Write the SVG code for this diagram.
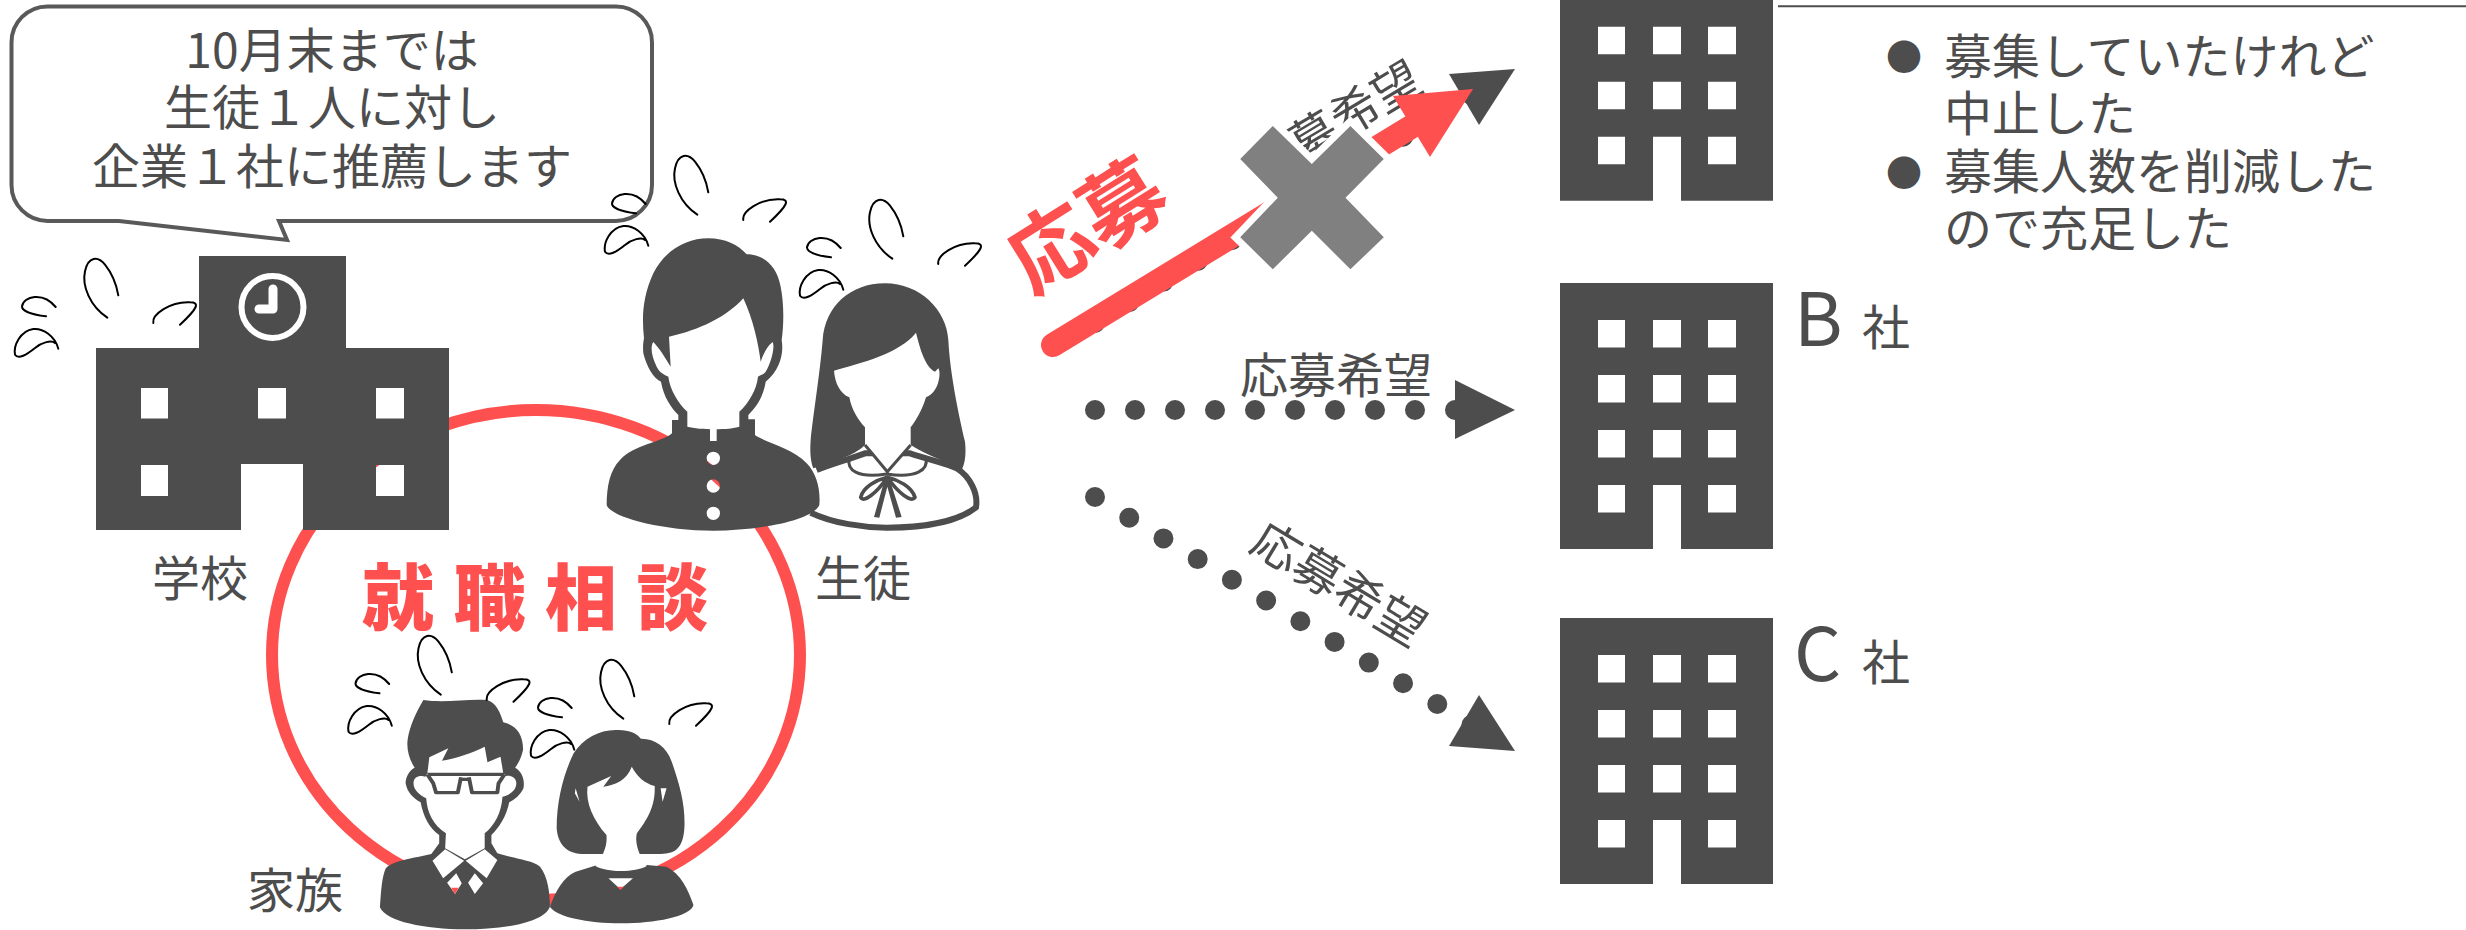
<svg xmlns="http://www.w3.org/2000/svg" xmlns:xlink="http://www.w3.org/1999/xlink" width="2466" height="930" viewBox="0 0 2466 930">
<style>
text{font-family:"Noto Sans CJK JP","Noto Sans",sans-serif;font-weight:400;fill:#4d4d4d;font-size:48px}
.c{text-anchor:middle}
.red{fill:#ff5050;font-weight:900}
.d{fill:#4d4d4d}
.w{fill:#fff}
.sw{fill:none;stroke:#000;stroke-width:2;stroke-linecap:round}
.dots{fill:none;stroke:#4d4d4d;stroke-width:20;stroke-linecap:round;stroke-dasharray:0 40}
.ln{fill:none;stroke:#4d4d4d;stroke-linejoin:round}
</style>
<defs>
<g id="sweat">
<path class="sw" d="M97.3,74.7C80,63 71.7,43 75,28.3C78.3,13 88,13 95,21.7C103,31.7 106.7,43 108.3,52.3"/>
<path class="sw" d="M143.3,80C141.7,71.7 160,58.3 180,59.3C190,59.3 188,65 170,81.7"/>
<path class="sw" d="M36,73.3C23,71.7 11.7,68.3 12,63.3C13.3,53.3 33,48.3 45.7,64"/>
<path class="sw" d="M48.3,105.7C45,93 33,85 23.3,86C10,88 3.3,103 5,111.7C8.3,116.7 16.7,111.7 25,105C31.7,99.3 41.7,96.7 45,100"/>
</g>
<path id="office" class="d" fill-rule="evenodd" d="M0,0H213V266H121V202H93V266H0ZM38,37h27v27.500h-27zM93,37h28v27.500h-28zM148,37h28v27.500h-28zM38,92h27v27.500h-27zM93,92h28v27.500h-28zM148,92h28v27.500h-28zM38,147h27v27.500h-27zM93,147h28v27.500h-28zM148,147h28v27.500h-28zM38,202h27v27.500h-27zM148,202h28v27.500h-28z"/>
</defs>
<rect width="2466" height="930" fill="#fff"/>
<ellipse id="consultation-ring" cx="536" cy="655" rx="264" ry="245" fill="none" stroke="#ff5050" stroke-width="12"/>
<text class="red" x="362" y="624" style="font-size:72px;letter-spacing:19.500px">就職相談</text>

<g id="bubble">
<path d="M47.500,6.400H616A36,36 0 0 1 652,42.400V185A36,36 0 0 1 616,221H279L287,240L119,221H47.500A36,36 0 0 1 11.500,185V42.400A36,36 0 0 1 47.500,6.400Z" fill="#fff" stroke="#595959" stroke-width="4"/>
<text class="c" x="332" y="68">10月末までは</text>
<text class="c" x="332" y="125">生徒１人に対し</text>
<text class="c" x="332" y="184">企業１社に推薦します</text>
</g>

<g id="school">
<path class="d" fill-rule="evenodd" d="M96,348H199V256H346V348H449V530H303V464H241V530H96ZM141,388h27v30.500h-27zM258,388h28v30.500h-28zM376,388h28v30.500h-28zM141,465h27v31h-27zM376,465h28v31h-28z"/>
<circle cx="272.500" cy="307" r="31" fill="none" stroke="#fff" stroke-width="6"/>
<path d="M273,289V309H259" fill="none" stroke="#fff" stroke-width="9" stroke-linecap="round" stroke-linejoin="round"/>
<use xlink:href="#sweat" href="#sweat" transform="translate(10,243)"/>
<text class="c" x="200" y="596">学校</text>
</g>

<g id="students">
<g id="girl" transform="translate(600,140) scale(.33333)">
<path d="M632,1118C700,1150 790,1163 860,1163C960,1163 1070,1148 1128,1102C1135,1060 1110,1010 1070,985C1040,970 990,960 930,940H795C740,960 700,970 650,990" fill="#fff" stroke="#4d4d4d" stroke-width="18"/>
<path class="d" d="M668,600C675,500 750,430 855,430C960,430 1040,510 1045,600C1050,700 1075,820 1095,905C1100,950 1092,975 1085,990C1050,970 990,950 932,915H795C775,935 740,955 640,985C630,960 630,930 632,900C640,820 660,700 668,600Z"/>
<path class="w" d="M702,692C780,670 900,640 948,578C960,625 975,680 1005,695L1015,685C1025,700 1015,760 978,772C965,815 945,845 932,862V915L862,995L795,915V862C775,840 755,810 748,772C720,760 705,730 702,692Z"/>
<path class="ln" stroke-width="9" d="M795,915L862,995L932,915M748,955C740,990 770,1015 860,1002C950,1015 985,990 978,955"/>
<path class="ln" stroke-width="11" d="M862,1012C830,1020 790,1040 782,1072C790,1090 830,1060 862,1012C895,1060 935,1090 945,1072C935,1040 895,1020 862,1012Z"/>
<path class="d" d="M855,1015L822,1131L838,1133L862,1040L888,1133L905,1131L868,1015Z"/>
</g>
<g id="boy" transform="translate(600,140) scale(.33333)">
<path class="d" fill-rule="evenodd" d="M132,595C125,530 128,470 160,400C195,330 260,295 325,295C375,295 415,315 440,343C490,343 530,375 542,440C552,490 552,550 545,600C552,640 540,690 497,725C490,770 470,800 445,825V838H465V885C490,905 580,925 620,970C650,1000 662,1050 658,1095C640,1140 480,1172 340,1172C180,1172 30,1130 20,1095C20,1040 30,990 60,960C100,915 190,905 216,880V840H235V825C215,805 190,770 183,725C160,715 140,680 130,640C128,620 130,605 132,595ZM360,955A20,20 0 1 1 320,955A20,20 0 1 1 360,955ZM360,1038A20,20 0 1 1 320,1038A20,20 0 1 1 360,1038ZM360,1120A20,20 0 1 1 320,1120A20,20 0 1 1 360,1120Z"/>
<path class="w" d="M207,590C300,570 380,530 430,475C460,540 475,610 482,665C490,640 505,615 518,606C525,620 515,665 497,695C490,705 478,705 474,710C470,750 445,790 418,815V860C390,870 300,870 262,860V815C235,790 210,750 205,710C195,705 180,700 170,680C155,650 150,620 160,606C175,620 200,660 212,680Z"/>
<rect class="w" x="330" y="866" width="20" height="37"/>
</g>
<use xlink:href="#sweat" href="#sweat" transform="translate(600,140)"/>
<use xlink:href="#sweat" href="#sweat" transform="translate(795,184)"/>
<text class="c" x="863" y="596">生徒</text>
</g>

<g id="family">
<g id="mother" transform="matrix(.3954,0,0,.33333,200,500)">
<path class="d" d="M1050,690C1085,688 1105,700 1115,716C1150,715 1180,740 1193,785C1215,860 1228,920 1225,985C1222,1040 1205,1062 1165,1062H965C925,1060 905,1030 902,985C902,900 920,820 945,760C970,715 1010,690 1050,690Z"/>
<path class="d" d="M1005,1095H1130L1180,1100C1215,1120 1235,1170 1248,1215C1240,1250 1150,1270 1065,1270C980,1270 900,1250 885,1220C900,1170 920,1130 950,1115Z"/>
<path class="w" d="M980,860L1040,828L1020,860C1050,855 1080,840 1092,800C1105,830 1125,850 1150,858C1152,920 1130,960 1105,1000C1100,1020 1105,1060 1130,1098C1100,1118 1030,1118 1000,1098C1025,1060 1030,1030 1028,1005C995,960 975,910 980,860Z"/>
<path class="w" d="M950,865L960,905L948,880ZM1180,865L1170,905L1165,865Z"/>
<path class="w" d="M1033,1135H1095L1063,1168Z"/>
<path fill="#ff5050" d="M1055,1160H1072L1063,1170Z"/>
</g>
<g id="father" transform="matrix(.3954,0,0,.33333,200,500)">
<path class="d" d="M565,600C620,610 680,595 725,600C750,608 760,640 767,667C800,675 818,705 817,750C812,775 805,790 797,803C815,815 822,840 818,865C810,885 795,900 782,907C775,950 755,985 737,1005V1030L752,1060C790,1075 840,1080 860,1100C880,1130 885,1180 885,1220C870,1270 760,1288 670,1288C570,1288 470,1265 455,1222C458,1170 460,1130 470,1105C490,1080 540,1075 585,1062L605,1030V1005C580,985 565,950 558,907C540,895 525,880 520,850C520,830 530,810 543,803C530,780 522,750 525,720C530,680 545,640 565,600Z"/>
<path class="w" d="M575,820L580,772L628,745L612,782C650,775 685,760 720,740L727,787L760,770L767,820L775,828C782,825 800,830 800,850C800,870 785,885 765,890C762,940 745,975 720,1000V1045L670,1078L620,1045L622,1000C590,975 575,940 572,895C555,885 540,870 540,850C540,830 555,825 570,830Z"/>
<path class="ln" stroke-width="10" d="M575,823H770M575,823L590,850L597,878H652L660,832M770,823L755,850L752,878H688L680,832M660,838H680"/>
<path class="w" d="M620,1048L668,1082L615,1135L588,1082ZM720,1048L672,1082L725,1135L752,1080ZM648,1120L662,1150L645,1182L625,1148ZM695,1120L716,1150L695,1182L678,1148Z"/>
<path fill="#ff5050" d="M635,1163H654L645,1182Z"/>
</g>
<use xlink:href="#sweat" href="#sweat" transform="translate(343.500,620)"/>
<use xlink:href="#sweat" href="#sweat" transform="translate(526,644)"/>
<text class="c" x="295" y="908">家族</text>
</g>

<g id="company-a">
<use xlink:href="#office" href="#office" transform="translate(1560,-65.300)"/>
<path d="M1778,6.300H2466" stroke="#4d4d4d" stroke-width="2" fill="none"/>
<text x="1944" y="74">募集していたけれど</text>
<text x="1944" y="131">中止した</text>
<text x="1944" y="189">募集人数を削減した</text>
<text x="1944" y="246">ので充足した</text>
<text class="c" x="1904" y="71" style="font-size:36px">●</text>
<text class="c" x="1904" y="187" style="font-size:36px">●</text>
</g>
<g id="company-b">
<use xlink:href="#office" href="#office" transform="translate(1560,283)"/>
<text x="1794" y="346" style="font-size:74px">B</text>
<text x="1862" y="345">社</text>
</g>
<g id="company-c">
<use xlink:href="#office" href="#office" transform="translate(1560,618)"/>
<text x="1794" y="681" style="font-size:74px">C</text>
<text x="1862" y="680">社</text>
</g>

<g id="connectors">
<path class="dots" d="M1095,323L1472,95"/>
<path class="d" d="M1515,69L1449,74L1479,125Z"/>
<text class="c" transform="translate(1335,125) rotate(-31)" y="16">応募希望</text>
<path class="dots" d="M1095,410H1460"/>
<path class="d" d="M1515,410L1455,380V439Z"/>
<text class="c" x="1336" y="393">応募希望</text>
<path class="dots" d="M1095,497L1472,725"/>
<path class="d" d="M1515,751L1449,746L1479,695Z"/>
<text class="c" transform="translate(1338,585) rotate(31)" y="16">応募希望</text>
<path d="M1053,345L1411,127" fill="none" stroke="#ff5050" stroke-width="24" stroke-linecap="round"/>
<path fill="#ff5050" d="M1473,89L1393,96L1430,157Z"/>
<path id="cross" d="M1272.800,126L1311.800,164L1350.400,126L1383.800,159L1345.500,197.700L1383.800,237.300L1350.400,269.300L1311.800,230.700L1272.800,269.300L1240.200,237.300L1277.800,197.700L1240.200,159Z" fill="#808080" stroke="#fff" stroke-width="14" stroke-linejoin="miter" paint-order="stroke"/>
<text class="c red" transform="translate(1087,226) rotate(-32)" y="30" style="font-size:84px;font-weight:700">応募</text>
</g>
</svg>
